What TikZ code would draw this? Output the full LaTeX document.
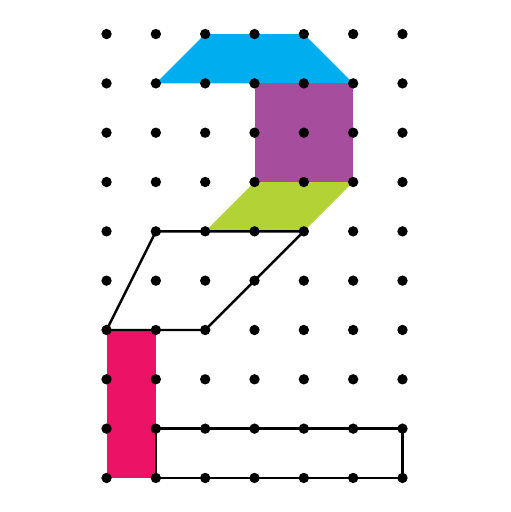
\documentclass[tikz,border=0pt]{standalone}
\usepackage{tikz}
\usetikzlibrary{calc,positioning}
\definecolor{geoblue}{HTML}{00AEEF}
\definecolor{geopurple}{HTML}{A64D9E}
\definecolor{geogreen}{HTML}{B3D236}
\definecolor{geopink}{HTML}{EC1266}
\tikzset{
  pin/.style={circle,fill=black,inner sep=0pt,minimum size=2.1mm},
  band/.style={draw=black,line width=1.4pt,line join=round}
}
\begin{document}
\begin{tikzpicture}[x=1cm,y=-1cm]
				\useasboundingbox (-2.16,-0.69) rectangle (8.18,9.69);
				%\draw[color=gray,step=1, help lines,opacity=0.3] (0,0) grid (6,9); %help grid
				\foreach \i in {0,...,6} {
					\foreach \j in {0,...,9} {
						\coordinate (p\i-\j) at (\i,\j);
					}
				}
				\fill[geoblue] (p2-0)--(p4-0)--(p5-1)--(p1-1)--cycle;
				\fill[geopurple] (p3-1)--(p5-1)--(p5-3)--(p3-3)--cycle;
				\fill[geogreen] (p3-3)--(p5-3)--(p4-4)--(p2-4)--cycle;
				\fill[geopink] (p0-6)--(p1-6)--(p1-9)--(p0-9)--cycle;
				\draw[band] (p1-4)--(p4-4)--(p2-6)--(p0-6)--cycle;
				\draw[band] (p1-8)--(p6-8)--(p6-9)--(p1-9)--cycle;
				\foreach \i in {0,...,6} {
					\foreach \j in {0,...,9} {
						\node[pin] (d\i-\j) at (p\i-\j) {};
					}
				}
\end{tikzpicture}
\end{document}
